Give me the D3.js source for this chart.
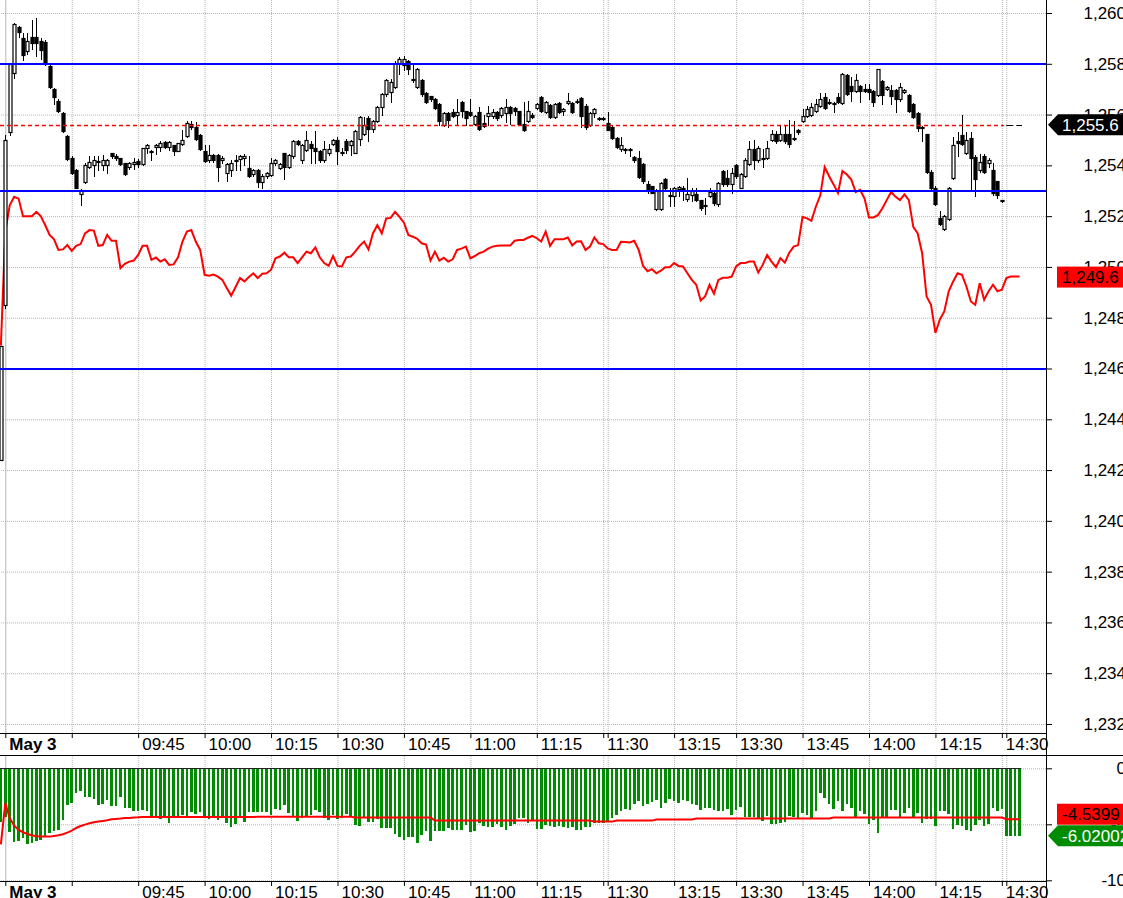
<!DOCTYPE html>
<html>
<head>
<meta charset="utf-8">
<script src="https://cdn.jsdelivr.net/npm/d3@7"></script>
<style>
  body { margin: 0; background: #fff; overflow: hidden; }
  svg { display: block; font-family: "Liberation Sans", Arial, sans-serif; }
</style>
</head>
<body>
<div id="chart"></div>
<script>
// ---- Data (one entry per 1-minute bar, starting at bar -1) ----
const firstBar = -1;

const candleOpen = [
  1242.4,1248.5,1255.3,1257.65,1259.46,1259.0,1258.5,1259.05,1259.05,1258.9,
  1258.85,1257.9,1257.0,1256.55,1256.05,1255.15,1254.3,1253.8,1252.87,1253.35,
  1253.95,1254.0,1254.17,1254.0,1254.0,1254.47,1254.38,1254.28,1254.08,1253.95,
  1254.05,1254.17,1254.05,1254.67,1254.56,1254.71,1254.71,1254.93,1254.74,1254.8,
  1254.58,1254.84,1255.16,1255.63,1255.52,1255.2,1254.58,1254.2,1254.4,1254.41,
  1254.2,1253.7,1253.8,1254.2,1254.25,1254.3,1253.9,1253.66,1253.82,1253.36,
  1253.6,1253.62,1254.08,1253.88,1254.47,1253.95,1254.38,1254.95,1254.2,1254.6,
  1254.85,1254.7,1254.55,1254.2,1254.5,1254.85,1255.0,1254.52,1254.95,1254.8,
  1254.5,1255.05,1255.25,1255.85,1255.45,1255.75,1256.3,1256.8,1256.9,1257.1,
  1258.05,1257.95,1258.1,1257.4,1257.1,1257.35,1256.85,1256.72,1256.6,1256.4,
  1255.6,1256.07,1256.1,1256.0,1256.5,1256.13,1256.1,1255.64,1256.1,1255.68,
  1255.95,1255.95,1256.1,1255.98,1256.05,1256.3,1256.25,1256.13,1255.64,1255.75,
  1256.0,1256.24,1256.7,1256.1,1256.36,1255.9,1256.45,1256.15,1256.45,1256.44,
  1256.55,1256.64,1256.33,1255.6,1256.07,1255.86,1255.86,1255.68,1255.5,1255.09,
  1254.64,1254.66,1254.66,1254.33,1254.28,1254.04,1253.28,1253.18,1252.27,1252.27,
  1253.45,1252.85,1252.8,1253.05,1253.1,1252.66,1252.85,1252.86,1252.62,1252.42,
  1252.8,1252.93,1252.46,1253.78,1253.5,1253.25,1254.0,1253.12,1253.6,1254.04,
  1254.63,1254.2,1254.3,1254.28,1254.98,1255.22,1254.98,1255.22,1255.22,1255.06,
  1255.4,1255.74,1255.94,1256.0,1256.15,1256.33,1256.7,1256.5,1256.46,1256.7,
  1256.46,1257.54,1257.12,1256.92,1257.12,1257.02,1257.0,1256.92,1256.77,1257.32,
  1257.02,1256.98,1256.98,1256.6,1256.88,1256.79,1256.4,1256.07,1255.5,1255.22,
  1253.75,1253.12,1251.94,1251.48,1251.87,1253.51,1254.95,1255.19,1254.5,1255.06,
  1254.33,1253.8,1254.36,1254.1,1253.8,1253.38,1252.62
];
const candleHigh = [
  1246.9,1255.2,1258.0,1259.6,1259.5,1259.2,1259.2,1259.72,1259.82,1259.0,
  1258.95,1257.95,1257.05,1256.6,1256.1,1255.2,1254.35,1253.85,1253.05,1254.1,
  1254.35,1254.35,1254.35,1254.4,1254.25,1254.5,1254.45,1254.3,1254.1,1254.15,
  1254.3,1254.25,1254.7,1254.85,1254.6,1254.85,1254.95,1254.95,1254.95,1254.82,
  1254.9,1255.4,1255.75,1255.75,1255.7,1255.22,1254.8,1254.8,1254.45,1254.45,
  1254.35,1254.1,1254.2,1254.4,1254.4,1254.45,1254.35,1253.85,1253.85,1253.65,
  1253.75,1254.3,1254.25,1254.1,1254.5,1254.45,1255.0,1255.0,1254.85,1255.35,
  1254.95,1255.35,1254.6,1254.95,1254.85,1255.05,1255.1,1254.7,1255.05,1255.0,
  1255.4,1255.95,1255.9,1255.95,1255.8,1256.35,1256.85,1257.4,1257.4,1258.1,
  1258.25,1258.3,1258.15,1258.0,1257.85,1257.4,1256.9,1256.75,1256.65,1256.45,
  1256.1,1256.1,1256.2,1256.6,1256.55,1256.15,1256.6,1256.0,1256.3,1256.0,
  1256.35,1256.2,1256.15,1256.3,1256.6,1256.35,1256.3,1256.15,1256.5,1256.55,
  1256.05,1256.45,1256.75,1256.55,1256.4,1256.45,1256.5,1256.25,1256.85,1256.5,
  1256.6,1256.7,1256.4,1256.1,1256.25,1255.9,1255.9,1256.1,1255.55,1255.1,
  1255.1,1254.7,1254.7,1254.35,1254.56,1254.1,1253.38,1253.2,1253.05,1253.35,
  1253.5,1253.1,1253.15,1253.18,1253.18,1253.5,1253.1,1253.1,1252.65,1252.7,
  1253.12,1253.0,1253.35,1253.8,1253.8,1253.9,1254.05,1253.7,1254.3,1254.95,
  1254.98,1254.75,1254.63,1254.95,1255.4,1255.35,1255.55,1255.55,1255.8,1255.75,
  1255.45,1256.2,1256.33,1256.46,1256.6,1256.85,1256.85,1256.6,1256.5,1256.85,
  1257.62,1257.6,1257.48,1257.58,1257.18,1257.22,1257.2,1256.95,1257.8,1257.35,
  1257.12,1257.15,1257.0,1257.26,1257.0,1256.82,1256.45,1256.1,1255.55,1255.25,
  1253.8,1253.18,1252.22,1252.05,1253.15,1255.1,1255.3,1255.98,1255.3,1255.3,
  1254.4,1254.45,1254.45,1254.3,1254.1,1253.4,1252.65
];
const candleLow = [
  1242.4,1248.4,1255.2,1257.45,1259.05,1258.15,1258.4,1258.6,1258.3,1258.2,
  1257.95,1257.05,1256.4,1256.1,1255.3,1254.2,1253.65,1253.1,1252.45,1253.3,
  1253.9,1253.6,1253.8,1253.8,1253.7,1254.3,1254.2,1254.0,1253.62,1253.85,
  1253.85,1253.95,1254.0,1254.5,1254.2,1254.45,1254.55,1254.7,1254.6,1254.4,
  1254.55,1254.8,1255.1,1255.45,1255.0,1254.6,1254.15,1254.15,1254.15,1253.4,
  1254.1,1253.4,1253.6,1253.8,1253.8,1254.0,1253.55,1253.6,1253.16,1253.1,
  1253.5,1253.6,1254.0,1253.85,1253.45,1253.9,1254.3,1254.8,1254.1,1254.55,
  1254.1,1254.1,1254.15,1254.15,1254.4,1254.8,1254.05,1254.4,1254.5,1254.4,
  1254.5,1254.8,1255.2,1254.95,1255.3,1255.7,1256.0,1256.75,1256.5,1257.05,
  1257.6,1257.75,1257.6,1257.3,1257.05,1256.75,1256.45,1256.55,1256.2,1255.6,
  1255.55,1255.5,1255.9,1255.6,1255.9,1255.6,1255.95,1255.6,1255.4,1255.5,
  1255.6,1255.85,1255.8,1255.9,1255.7,1255.62,1256.0,1255.6,1255.35,1255.7,
  1255.85,1256.2,1256.1,1256.05,1255.85,1255.85,1256.05,1256.0,1256.4,1256.05,
  1256.45,1255.5,1255.45,1255.55,1255.9,1255.8,1255.8,1255.4,1255.05,1254.7,
  1254.55,1254.5,1254.35,1254.15,1253.5,1253.3,1252.92,1252.9,1252.25,1252.25,
  1253.05,1252.4,1252.4,1252.8,1252.65,1252.6,1252.6,1252.6,1252.26,1252.1,
  1252.75,1252.45,1252.4,1253.2,1253.2,1252.9,1253.5,1253.1,1253.55,1254.0,
  1253.85,1254.15,1253.95,1254.25,1254.95,1254.9,1254.95,1254.9,1254.72,1255.0,
  1255.25,1255.7,1255.9,1255.95,1256.1,1256.3,1256.2,1256.4,1256.1,1256.45,
  1256.42,1256.78,1256.55,1256.9,1256.5,1256.9,1256.6,1256.32,1256.75,1256.4,
  1256.95,1256.4,1256.1,1256.55,1256.85,1256.1,1255.85,1255.35,1254.97,1253.7,
  1253.05,1252.45,1251.65,1251.45,1251.85,1253.45,1254.35,1254.8,1254.45,1253.0,
  1252.8,1253.75,1253.7,1253.95,1252.85,1252.7,1252.55
];
const candleClose = [
  1246.9,1255.0,1258.0,1259.55,1259.26,1258.35,1258.9,1258.8,1258.8,1258.55,
  1258.0,1257.1,1256.7,1256.15,1255.35,1254.25,1253.7,1253.1,1253.03,1254.0,
  1254.12,1254.2,1254.12,1254.2,1254.2,1254.35,1254.3,1254.05,1253.66,1254.08,
  1254.12,1254.05,1254.67,1254.8,1254.53,1254.8,1254.87,1254.74,1254.93,1254.58,
  1254.87,1255.0,1255.66,1255.52,1255.03,1254.63,1254.18,1254.4,1254.2,1253.95,
  1254.3,1254.05,1254.1,1254.22,1254.35,1254.35,1253.6,1253.82,1253.36,1253.6,
  1253.7,1254.08,1254.2,1254.04,1253.95,1254.4,1254.95,1254.85,1254.8,1255.0,
  1254.7,1254.55,1254.2,1254.65,1254.65,1255.0,1254.55,1254.48,1254.6,1254.95,
  1255.35,1255.9,1255.6,1255.45,1255.75,1256.3,1256.8,1257.35,1257.3,1258.05,
  1258.2,1258.2,1257.8,1257.35,1257.8,1256.8,1256.5,1256.6,1256.27,1255.74,
  1256.07,1255.8,1255.95,1256.1,1256.14,1255.87,1256.0,1255.94,1255.45,1255.55,
  1256.05,1256.1,1255.85,1256.27,1256.3,1256.07,1256.15,1255.64,1255.41,1256.13,
  1255.9,1256.42,1256.16,1256.5,1255.9,1256.4,1256.1,1256.2,1256.55,1256.1,
  1256.5,1255.94,1255.5,1256.07,1256.2,1255.84,1255.84,1255.41,1255.09,1254.72,
  1254.8,1254.64,1254.64,1254.2,1253.54,1253.38,1252.98,1252.9,1253.0,1253.32,
  1253.1,1252.83,1253.12,1253.15,1253.08,1252.86,1252.98,1252.62,1252.33,1252.4,
  1252.96,1252.5,1253.3,1253.25,1253.25,1253.7,1253.58,1253.67,1254.23,1254.63,
  1254.2,1254.7,1254.28,1254.7,1255.25,1254.96,1255.25,1254.96,1254.85,1255.04,
  1255.3,1255.94,1256.2,1256.3,1256.42,1256.6,1256.27,1256.48,1256.44,1256.48,
  1257.6,1256.82,1256.92,1257.38,1256.92,1256.92,1256.9,1256.5,1257.78,1256.77,
  1257.1,1256.74,1256.6,1257.1,1256.98,1256.14,1255.9,1255.48,1255.48,1253.75,
  1253.12,1252.49,1251.7,1252.0,1253.12,1254.8,1254.88,1254.85,1255.0,1254.3,
  1253.45,1254.14,1253.74,1254.2,1252.92,1252.85,1252.6
];

// red average line in the price pane (bar -1 .. 229)
const avgLine = [
  1246.9,1251.4,1252.43,1252.76,1252.69,1252.0,1252.0,1252.0,1252.17,1252.0,
  1251.65,1251.26,1251.09,1250.67,1250.69,1250.86,1250.63,1250.83,1250.9,1251.32,
  1251.45,1251.43,1250.83,1250.86,1251.26,1251.03,1251.03,1249.95,1250.12,1250.21,
  1250.25,1250.47,1250.83,1250.83,1250.28,1250.37,1250.21,1250.3,1250.08,1250.1,
  1250.38,1251.0,1251.39,1251.45,1251.0,1250.67,1249.69,1249.65,1249.7,1249.62,
  1249.49,1249.17,1248.87,1249.21,1249.56,1249.43,1249.6,1249.75,1249.56,1249.73,
  1249.75,1249.89,1250.34,1250.41,1250.56,1250.38,1250.38,1250.15,1250.38,1250.6,
  1250.54,1250.77,1250.38,1250.15,1250.04,1250.43,1250.04,1250.02,1250.38,1250.41,
  1250.6,1250.83,1251.0,1250.69,1251.32,1251.65,1251.32,1251.91,1251.93,1252.17,
  1251.97,1251.74,1251.26,1251.19,1251.11,1250.93,1250.88,1250.25,1250.6,1250.25,
  1250.36,1250.21,1250.3,1250.67,1250.72,1250.8,1250.34,1250.43,1250.54,1250.6,
  1250.72,1250.8,1250.83,1250.84,1250.84,1250.84,1251.03,1251.06,1251.06,1251.15,
  1251.22,1251.13,1251.0,1251.39,1250.83,1251.09,1251.09,1251.09,1251.16,1250.85,
  1251.0,1251.01,1250.67,1250.8,1251.16,1250.93,1250.9,1250.73,1250.67,1250.67,
  1250.99,1250.98,1250.96,1251.03,1250.67,1250.04,1249.83,1249.91,1249.75,1249.85,
  1249.99,1249.99,1250.15,1250.04,1250.02,1249.75,1249.49,1249.3,1248.68,1248.84,
  1249.3,1248.95,1249.49,1249.57,1249.57,1249.62,1250.02,1250.15,1250.15,1250.21,
  1250.21,1249.78,1250.08,1250.47,1250.21,1249.99,1250.34,1250.17,1250.56,1250.8,
  1250.86,1251.97,1251.91,1251.82,1252.37,1252.82,1253.93,1253.57,1253.25,1252.91,
  1253.78,1253.64,1253.44,1252.95,1253.04,1252.69,1251.95,1251.95,1252.04,1252.3,
  1252.63,1252.95,1252.76,1252.63,1252.86,1252.63,1251.58,1251.32,1250.54,1248.84,
  1248.51,1247.4,1247.93,1248.25,1249.04,1249.43,1249.75,1249.69,1249.23,1248.64,
  1248.51,1249.36,1248.71,1249.04,1249.3,1249.04,1249.1,1249.56,1249.62,1249.62,
  1249.62
];

// lower pane: green histogram values (bar -1 .. 229)
const histValues = [
  -4.76,-4.32,-5.65,-6.61,-6.46,-6.25,-6.79,-6.7,-6.49,-6.4,
  -6.1,-5.8,-5.6,-5.51,-4.61,-3.27,-3.13,-2.23,-2.02,-2.53,
  -2.53,-2.74,-3.27,-3.18,-2.83,-3.33,-3.36,-2.53,-3.51,-3.57,
  -3.78,-3.78,-3.72,-3.78,-4.32,-4.32,-4.55,-4.32,-4.85,-4.32,
  -4.26,-4.17,-4.26,-3.93,-4.08,-3.93,-4.32,-4.55,-4.4,-4.64,
  -4.32,-4.85,-5.21,-4.97,-4.32,-4.76,-3.87,-3.87,-3.87,-3.87,
  -3.87,-4.17,-3.63,-3.72,-3.27,-4.02,-4.32,-4.67,-4.4,-4.32,
  -4.17,-3.72,-3.87,-4.46,-4.61,-4.17,-4.55,-4.46,-4.11,-4.32,
  -5.06,-5.12,-4.32,-4.76,-4.76,-4.55,-5.36,-5.36,-5.3,-5.86,
  -6.1,-6.4,-6.1,-6.1,-6.64,-5.95,-5.6,-6.49,-5.6,-5.6,
  -5.6,-5.36,-5.51,-5.51,-5.51,-5.06,-5.65,-5.6,-4.85,-5.15,
  -5.21,-5.21,-5.0,-5.21,-5.51,-5.12,-5.0,-4.46,-4.4,-4.85,
  -4.61,-5.42,-5.42,-5.06,-5.12,-5.21,-5.12,-5.21,-5.3,-5.21,
  -5.51,-5.51,-5.21,-5.21,-4.85,-4.91,-4.91,-4.76,-4.46,-4.17,
  -3.81,-3.63,-3.72,-3.18,-2.92,-3.36,-3.18,-2.98,-2.83,-3.51,
  -3.07,-2.74,-2.92,-3.07,-2.83,-2.92,-3.18,-3.27,-3.72,-3.51,
  -3.51,-3.72,-3.81,-3.81,-3.63,-4.17,-3.72,-3.42,-4.38,-4.38,
  -4.32,-4.46,-4.67,-4.26,-4.97,-5.0,-4.85,-4.76,-4.23,-4.32,
  -4.46,-4.02,-4.17,-4.55,-3.81,-2.17,-2.68,-3.18,-3.63,-2.89,
  -3.78,-3.18,-3.51,-4.46,-3.81,-4.08,-4.97,-4.61,-5.74,-4.46,
  -4.46,-3.72,-3.72,-4.46,-3.96,-3.51,-4.46,-3.96,-4.85,-4.55,
  -4.52,-5.12,-3.78,-3.78,-4.08,-5.42,-5.06,-5.12,-5.51,-5.57,
  -5.06,-4.61,-5.12,-4.97,-3.51,-3.78,-3.63,-6.02,-6.02,-6.02,
  -6.02
];

// lower pane: red signal line (bar -1 .. 229)
const histSignal = [
  -6.79,-3.1,-4.46,-5.12,-5.5,-5.71,-5.86,-5.98,-6.07,-6.1,
  -6.1,-6.1,-6.04,-5.98,-5.89,-5.74,-5.57,-5.33,-5.15,-5.03,
  -4.91,-4.82,-4.76,-4.7,-4.64,-4.55,-4.52,-4.49,-4.43,-4.43,
  -4.4,-4.38,-4.35,-4.35,-4.35,-4.35,-4.35,-4.35,-4.35,-4.35,
  -4.35,-4.35,-4.35,-4.35,-4.35,-4.35,-4.35,-4.35,-4.35,-4.35,
  -4.35,-4.35,-4.35,-4.35,-4.35,-4.35,-4.35,-4.35,-4.32,-4.32,
  -4.32,-4.32,-4.32,-4.32,-4.32,-4.32,-4.32,-4.32,-4.32,-4.32,
  -4.32,-4.32,-4.32,-4.32,-4.32,-4.32,-4.32,-4.32,-4.32,-4.32,
  -4.4,-4.4,-4.4,-4.4,-4.4,-4.4,-4.4,-4.4,-4.4,-4.4,
  -4.4,-4.4,-4.4,-4.4,-4.4,-4.4,-4.4,-4.4,-4.67,-4.67,
  -4.67,-4.67,-4.67,-4.67,-4.67,-4.67,-4.67,-4.67,-4.67,-4.67,
  -4.67,-4.67,-4.67,-4.67,-4.67,-4.67,-4.67,-4.67,-4.67,-4.67,
  -4.67,-4.67,-4.67,-4.67,-4.67,-4.67,-4.67,-4.67,-4.67,-4.67,
  -4.67,-4.67,-4.67,-4.67,-4.76,-4.76,-4.76,-4.76,-4.76,-4.67,
  -4.67,-4.67,-4.67,-4.67,-4.67,-4.67,-4.67,-4.67,-4.58,-4.58,
  -4.58,-4.58,-4.58,-4.58,-4.58,-4.58,-4.58,-4.49,-4.49,-4.49,
  -4.49,-4.49,-4.49,-4.49,-4.49,-4.49,-4.49,-4.49,-4.49,-4.49,
  -4.49,-4.49,-4.49,-4.49,-4.49,-4.49,-4.49,-4.49,-4.49,-4.49,
  -4.49,-4.49,-4.49,-4.49,-4.49,-4.49,-4.49,-4.49,-4.4,-4.4,
  -4.4,-4.4,-4.4,-4.4,-4.4,-4.4,-4.4,-4.4,-4.4,-4.4,
  -4.4,-4.4,-4.4,-4.4,-4.4,-4.4,-4.4,-4.4,-4.4,-4.4,
  -4.4,-4.4,-4.4,-4.4,-4.4,-4.4,-4.4,-4.4,-4.4,-4.4,
  -4.4,-4.4,-4.4,-4.4,-4.4,-4.4,-4.4,-4.54,-4.54,-4.54,
  -4.54
];

// axes
const priceTicks = [1232,1234,1236,1238,1240,1242,1244,1246,1248,1250,1252,1254,1256,1258,1260];
const lowTicks = [0, -5, -10];
const gridBars = [0,15,30,45,60,75,90,105,120,135,136,151,165,180,195,210,225,226];
const timeLabelBars = [0,30,45,60,75,90,105,120,135,151,165,180,195,210,225];
const timeLabels = ["May 3","09:45","10:00","10:15","10:30","10:45","11:00","11:15","11:30","13:15","13:30","13:45","14:00","14:15","14:30"];

// horizontal levels and last-value tags
const blueLevels = [1258, 1253, 1246];
const lastPrice = 1255.6;
const lastAvg = 1249.6;
const lastSignal = -4.5399;
const lastHist = -6.02002;

// ---- Layout ----
const W = 1123, H = 898;
const axisX = 1046;
const mainBottom = 733;
const lowTop = 755, lowBottom = 881;

const svg = d3.select("#chart").append("svg")
    .attr("width", W)
    .attr("height", H);

const x = d3.scaleLinear().domain([0, 226]).range([5.3, 1006.3]);
const yPrice = d3.scaleLinear().domain([1232, 1260]).range([724, 13]);
const yLow = d3.scaleLinear().domain([-10, 0]).range([880.3, 768.3]);

const defs = svg.append("defs");
defs.append("clipPath").attr("id", "clipMain")
    .append("rect").attr("x", 0).attr("y", 0).attr("width", axisX).attr("height", mainBottom);
defs.append("clipPath").attr("id", "clipLow")
    .append("rect").attr("x", 0).attr("y", lowTop + 1).attr("width", axisX).attr("height", lowBottom - lowTop - 1);

function styleGrid(g) {
    g.select(".domain").remove();
    g.selectAll(".tick line")
        .attr("stroke", "#b4b4b4")
        .attr("stroke-dasharray", "1,1");
}

// ---- Price pane gridlines ----
svg.append("g")
    .attr("transform", `translate(${axisX},0)`)
    .call(d3.axisLeft(yPrice).tickValues(priceTicks).tickSize(axisX).tickFormat(""))
    .call(styleGrid);

svg.append("g")
    .attr("transform", `translate(0,${mainBottom})`)
    .call(d3.axisTop(x).tickValues(gridBars).tickSize(mainBottom).tickFormat(""))
    .call(styleGrid)
    .selectAll(".tick line").filter(d => d === 0).attr("stroke-dasharray", null);

const main = svg.append("g").attr("clip-path", "url(#clipMain)");

// red average line (under the candles)
const avgPath = d3.line()
    .x((d, k) => x(firstBar + k))
    .y(d => yPrice(d));
main.append("path")
    .datum(avgLine)
    .attr("fill", "none")
    .attr("stroke", "#ff0000")
    .attr("stroke-width", 2)
    .attr("d", avgPath);

// candles
const candles = candleOpen.map((o, k) => ({
    i: firstBar + k, o: o, h: candleHigh[k], l: candleLow[k], c: candleClose[k]
}));

main.append("g").selectAll("line")
    .data(candles)
    .enter()
    .append("line")
    .attr("x1", d => Math.round(x(d.i)) + 0.5)
    .attr("x2", d => Math.round(x(d.i)) + 0.5)
    .attr("y1", d => Math.round(yPrice(Math.max(d.h, d.o, d.c))))
    .attr("y2", d => Math.round(yPrice(Math.min(d.l, d.o, d.c))) + 1)
    .attr("stroke", "#000")
    .attr("stroke-width", 1);

main.append("g").selectAll("rect")
    .data(candles)
    .enter()
    .append("rect")
    .attr("x", d => Math.round(x(d.i)) - 1)
    .attr("y", d => Math.round(yPrice(Math.max(d.o, d.c))) + 0.5)
    .attr("width", 3)
    .attr("height", d => Math.max(1, Math.round(yPrice(Math.min(d.o, d.c))) - Math.round(yPrice(Math.max(d.o, d.c)))))
    .attr("fill", d => d.c >= d.o ? "#fff" : "#000")
    .attr("stroke", "#000")
    .attr("stroke-width", 1.2);

// blue levels
main.selectAll(".level")
    .data(blueLevels)
    .enter()
    .append("line")
    .attr("x1", 0)
    .attr("x2", axisX)
    .attr("y1", d => Math.round(yPrice(d)))
    .attr("y2", d => Math.round(yPrice(d)))
    .attr("stroke", "#0000ff")
    .attr("stroke-width", 2);

// last price dashed line
const lastY = Math.round(yPrice(lastPrice)) + 0.5;
main.append("line")
    .attr("x1", 0).attr("x2", x(225) + 2)
    .attr("y1", lastY).attr("y2", lastY)
    .attr("stroke", "#ff0000")
    .attr("stroke-width", 1.4)
    .attr("stroke-dasharray", "4,3");
main.append("line")
    .attr("x1", x(226)).attr("x2", 1022)
    .attr("y1", lastY).attr("y2", lastY)
    .attr("stroke", "#000")
    .attr("stroke-dasharray", "7,3");

// ---- Lower pane ----
svg.append("g")
    .attr("transform", `translate(${axisX},0)`)
    .call(d3.axisLeft(yLow).tickValues(lowTicks).tickSize(axisX).tickFormat(""))
    .call(styleGrid);

svg.append("g")
    .attr("transform", `translate(0,${lowBottom})`)
    .call(d3.axisTop(x).tickValues(gridBars).tickSize(lowBottom - lowTop).tickFormat(""))
    .call(styleGrid)
    .selectAll(".tick line").filter(d => d === 0).attr("stroke-dasharray", null);

const low = svg.append("g").attr("clip-path", "url(#clipLow)");

low.append("g").selectAll("rect")
    .data(histValues)
    .enter()
    .append("rect")
    .attr("x", (d, k) => x(firstBar + k) - 1.3)
    .attr("y", yLow(0))
    .attr("width", 2.6)
    .attr("height", d => yLow(d) - yLow(0))
    .attr("fill", "#008c00")
    .attr("shape-rendering", "crispEdges");

low.append("line")
    .attr("x1", 0).attr("x2", x(229) + 1.5)
    .attr("y1", Math.round(yLow(0)) + 0.5).attr("y2", Math.round(yLow(0)) + 0.5)
    .attr("stroke", "#222");

low.append("path")
    .datum(histSignal)
    .attr("fill", "none")
    .attr("stroke", "#ff0000")
    .attr("stroke-width", 2)
    .attr("d", d3.line().x((d, k) => x(firstBar + k)).y(d => yLow(d)));

// ---- Time axes ----
function timeAxis(top) {
    const g = svg.append("g")
        .attr("transform", `translate(0,${top})`)
        .call(d3.axisBottom(x).tickValues(gridBars).tickSize(5)
            .tickFormat(d => {
                const k = timeLabelBars.indexOf(d);
                return k < 0 ? "" : timeLabels[k];
            }));
    g.select(".domain").remove();
    g.selectAll(".tick line").attr("stroke", "#000");
    g.selectAll(".tick text")
        .attr("x", 3.5)
        .attr("y", 17)
        .attr("dy", null)
        .attr("text-anchor", "start")
        .attr("fill", "#000")
        .style("font-size", "17px")
        .style("font-family", "'Liberation Sans', Arial, sans-serif")
        .style("font-weight", d => d === 0 ? "bold" : "normal");
}
timeAxis(mainBottom);
timeAxis(lowBottom);

// frame lines
svg.append("line").attr("x1", 0).attr("x2", axisX).attr("y1", mainBottom + 0.5).attr("y2", mainBottom + 0.5).attr("stroke", "#000");
svg.append("line").attr("x1", 0).attr("x2", W).attr("y1", lowTop + 0.5).attr("y2", lowTop + 0.5).attr("stroke", "#000");
svg.append("line").attr("x1", 0).attr("x2", axisX).attr("y1", lowBottom + 0.5).attr("y2", lowBottom + 0.5).attr("stroke", "#000");
svg.append("line").attr("x1", axisX + 0.5).attr("x2", axisX + 0.5).attr("y1", 0).attr("y2", H).attr("stroke", "#000");

// ---- Right axes ----
function valueAxis(scale, ticks, fmt) {
    const g = svg.append("g")
        .attr("transform", `translate(${axisX},0)`)
        .call(d3.axisRight(scale).tickValues(ticks).tickSize(6).tickFormat(fmt));
    g.select(".domain").remove();
    g.selectAll(".tick line").attr("stroke", "#000");
    g.selectAll(".tick text")
        .attr("x", 80)
        .attr("text-anchor", "end")
        .attr("fill", "#000")
        .style("font-size", "17px")
        .style("font-family", "'Liberation Sans', Arial, sans-serif");
}
valueAxis(yPrice, priceTicks, d3.format(","));
valueAxis(yLow, lowTicks, d => String(d));

// ---- Last-value tags ----
function arrowTag(cy, fill, label, color) {
    const h = 10.5;
    svg.append("polygon")
        .attr("points", [[axisX + 2, cy], [axisX + 12, cy - h], [W, cy - h], [W, cy + h], [axisX + 12, cy + h]].join(" "))
        .attr("fill", fill);
    svg.append("text")
        .attr("x", 1062).attr("y", cy).attr("dy", "0.36em")
        .attr("fill", color)
        .style("font-size", "17px")
        .text(label);
}
function boxTag(cy, fill, label, color) {
    svg.append("rect")
        .attr("x", 1057).attr("y", cy - 10.5)
        .attr("width", W - 1057).attr("height", 21)
        .attr("fill", fill);
    svg.append("text")
        .attr("x", 1062).attr("y", cy).attr("dy", "0.36em")
        .attr("fill", color)
        .style("font-size", "17px")
        .text(label);
}

arrowTag(yPrice(lastPrice), "#000", d3.format(",.1f")(lastPrice), "#fff");
boxTag(yPrice(lastAvg), "#ff0000", d3.format(",.1f")(lastAvg), "#000");

const histY = yLow(lastHist);
const signalY = Math.min(yLow(lastSignal), histY - 21.5);
boxTag(signalY, "#ff0000", String(lastSignal), "#000");
arrowTag(histY, "#008c00", String(lastHist), "#fff");
</script>
</body>
</html>
